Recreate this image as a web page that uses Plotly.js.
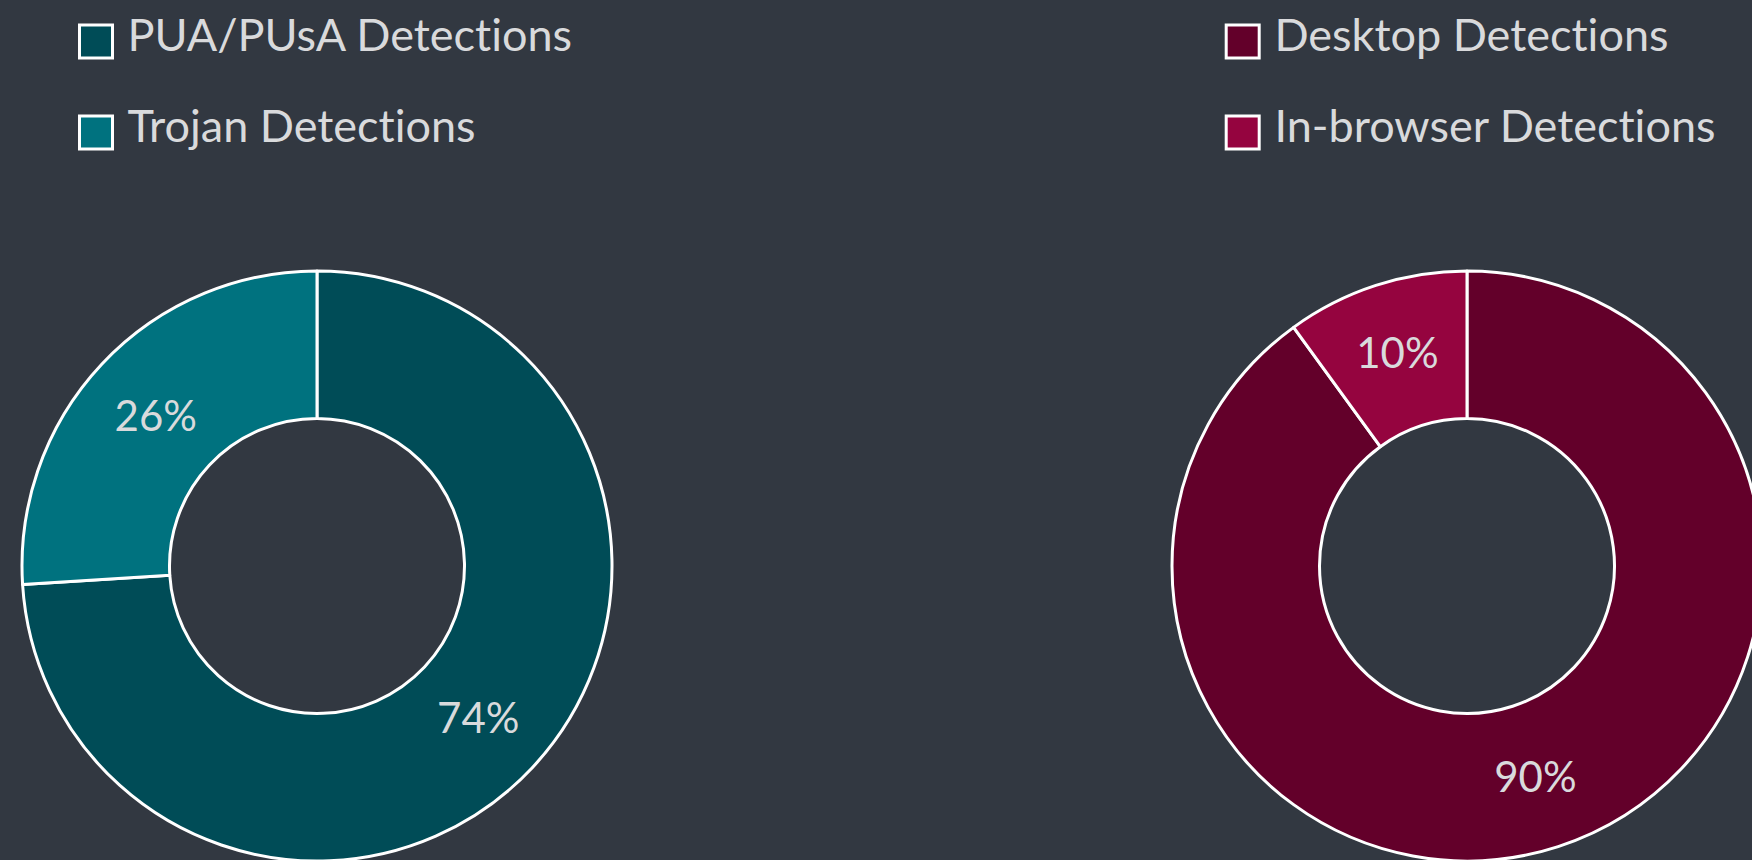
<!DOCTYPE html>
<html>
<head>
<meta charset="utf-8">
<script src="https://cdn.plot.ly/plotly-3.0.1.min.js"></script>
<style>
  html, body { margin: 0; padding: 0; background: #323841; overflow: hidden; }
  #chart { width: 1800px; height: 900px; }
  #chart text { font-variant-ligatures: none; font-feature-settings: "liga" 0, "clig" 0; }
</style>
</head>
<body>
<div id="chart"></div>
<script>
// ---- data ----
const threatLabels = ['PUA/PUsA Detections', 'Trojan Detections'];
const threatValues = [74, 26];
const threatColors = ['#004c57', '#00727f'];

const platformLabels = ['Desktop Detections', 'In-browser Detections'];
const platformValues = [90, 10];
const platformColors = ['#63002a', '#95043f'];

// ---- layout helpers ----
const W = 1800, H = 900;
const px = x => x / W;
const py = y => 1 - y / H;
const FONT = 'Lato, "Open Sans", sans-serif';
const TEXT = '#d9dadc';
const BG = '#323841';

const R = 295, CY = 566;
function dom(cx) {
  return { x: [px(cx - R), px(cx + R)], y: [py(CY + R), py(CY - R)] };
}

const pieCommon = {
  type: 'pie',
  hole: 0.5,
  sort: false,
  direction: 'clockwise',
  rotation: 0,
  textinfo: 'percent',
  textposition: 'inside',
  insidetextorientation: 'horizontal',
  textfont: { family: FONT, size: 42, color: TEXT },
  hoverinfo: 'none',
  showlegend: false
};

const traces = [
  Object.assign({}, pieCommon, {
    labels: threatLabels, values: threatValues,
    marker: { colors: threatColors, line: { color: '#ffffff', width: 3 } },
    domain: dom(317)
  }),
  Object.assign({}, pieCommon, {
    labels: platformLabels, values: platformValues,
    marker: { colors: platformColors, line: { color: '#ffffff', width: 3 } },
    domain: dom(1467)
  })
];

// ---- custom legends (built from the label/colour arrays) ----
const shapes = [], annotations = [];
function addLegend(labels, colors, boxCx, textX) {
  const rows = [41.5, 132.5];
  labels.forEach((lab, i) => {
    const cy = rows[i];
    shapes.push({
      type: 'rect', xref: 'paper', yref: 'paper',
      x0: px(boxCx - 16.5), x1: px(boxCx + 16.5),
      y0: py(cy + 16.5), y1: py(cy - 16.5),
      fillcolor: colors[i], line: { color: '#ffffff', width: 3 }
    });
    annotations.push({
      xref: 'paper', yref: 'paper', x: px(textX), y: py(cy - 7.5),
      xanchor: 'left', yanchor: 'middle', showarrow: false,
      text: lab, font: { family: FONT, size: 45, color: TEXT }
    });
  });
}
addLegend(threatLabels, threatColors, 96, 125);
addLegend(platformLabels, platformColors, 1242.7, 1272);

const layout = {
  width: W, height: H,
  margin: { l: 0, r: 0, t: 0, b: 0, pad: 0 },
  paper_bgcolor: BG, plot_bgcolor: BG,
  showlegend: false,
  shapes: shapes,
  annotations: annotations,
  font: { family: FONT, color: TEXT }
};

Plotly.newPlot('chart', traces, layout, { displayModeBar: false, staticPlot: true });
</script>
</body>
</html>
